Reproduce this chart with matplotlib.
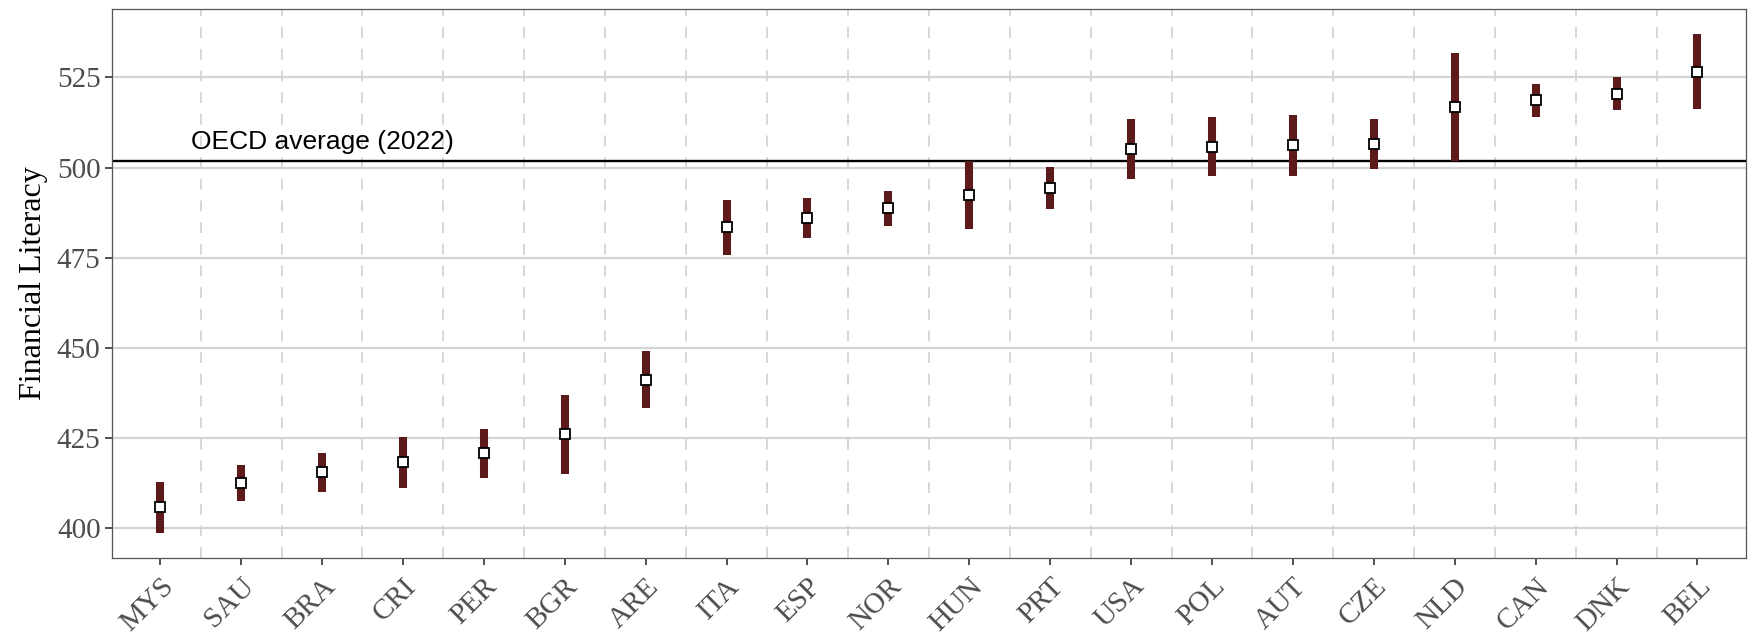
import matplotlib.pyplot as plt
import numpy as np

countries = ["MYS", "SAU", "BRA", "CRI", "PER", "BGR", "ARE", "ITA", "ESP", "NOR",
             "HUN", "PRT", "USA", "POL", "AUT", "CZE", "NLD", "CAN", "DNK", "BEL"]
score = [405.8, 412.4, 415.5, 418.2, 420.7, 426.1, 441.0, 483.5, 486.0, 488.7,
         492.4, 494.4, 505.2, 505.8, 506.2, 506.6, 516.7, 518.8, 520.4, 526.6]
lower = [398.6, 407.6, 410.0, 411.1, 413.9, 415.0, 433.2, 475.8, 480.5, 483.7,
         483.1, 488.4, 496.9, 497.6, 497.6, 499.5, 501.8, 514.1, 515.9, 516.2]
upper = [412.9, 417.4, 420.8, 425.3, 427.4, 437.0, 449.2, 491.0, 491.5, 493.6,
         501.7, 500.3, 513.5, 513.9, 514.7, 513.6, 531.8, 523.2, 525.2, 537.1]
oecd_avg = 501.7

bar_col = "#5C1A1A"
grid_col = "#d4d4d4"

fig = plt.figure(figsize=(17.5, 6.37), dpi=100)
ax = fig.add_axes([0.0638, 0.124, 0.9339, 0.862])

x = np.arange(len(countries))

# gridlines: solid horizontal at the ticks, dashed vertical between categories
for yv in [400, 425, 450, 475, 500, 525]:
    ax.axhline(yv, color=grid_col, lw=1.6, zorder=0)
for xv in x[:-1] + 0.5:
    ax.axvline(xv, color=grid_col, lw=1.3, ls=(0, (6, 6)), zorder=0)

ax.axhline(oecd_avg, color="black", lw=1.7, zorder=1)
ax.text(2, 507, "OECD average (2022)", family="Liberation Sans", fontsize=19,
        ha="center", va="center", color="black")

ax.vlines(x, lower, upper, color=bar_col, lw=5.8, zorder=2)
ax.plot(x, score, ls="none", marker="s", ms=6.5, mfc="white", mec="black",
        mew=1.3, zorder=3)

ax.set_xlim(-0.6, len(countries) - 0.4)
lo = min(lower)
hi = max(upper)
pad = (hi - lo) * 0.05
ax.set_ylim(lo - pad, hi + pad)

ax.set_yticks([400, 425, 450, 475, 500, 525])
ax.set_xticks(x)
ax.set_xticklabels(countries, rotation=45, ha="right", va="top",
                   rotation_mode="anchor")
for lab in ax.get_xticklabels() + ax.get_yticklabels():
    lab.set_family("Liberation Serif")
    lab.set_fontsize(21)
    lab.set_color("#4d4d4d")
ax.tick_params(axis="both", direction="out", length=5, width=1.2, color="#333333", pad=3)
ax.tick_params(axis="x", pad=6)

ax.set_ylabel("Financial Literacy", family="Liberation Serif", fontsize=23,
              color="black", labelpad=6)

for s in ax.spines.values():
    s.set_color("#555555")
    s.set_linewidth(0.9)

fig.savefig("out.png", dpi=100)
